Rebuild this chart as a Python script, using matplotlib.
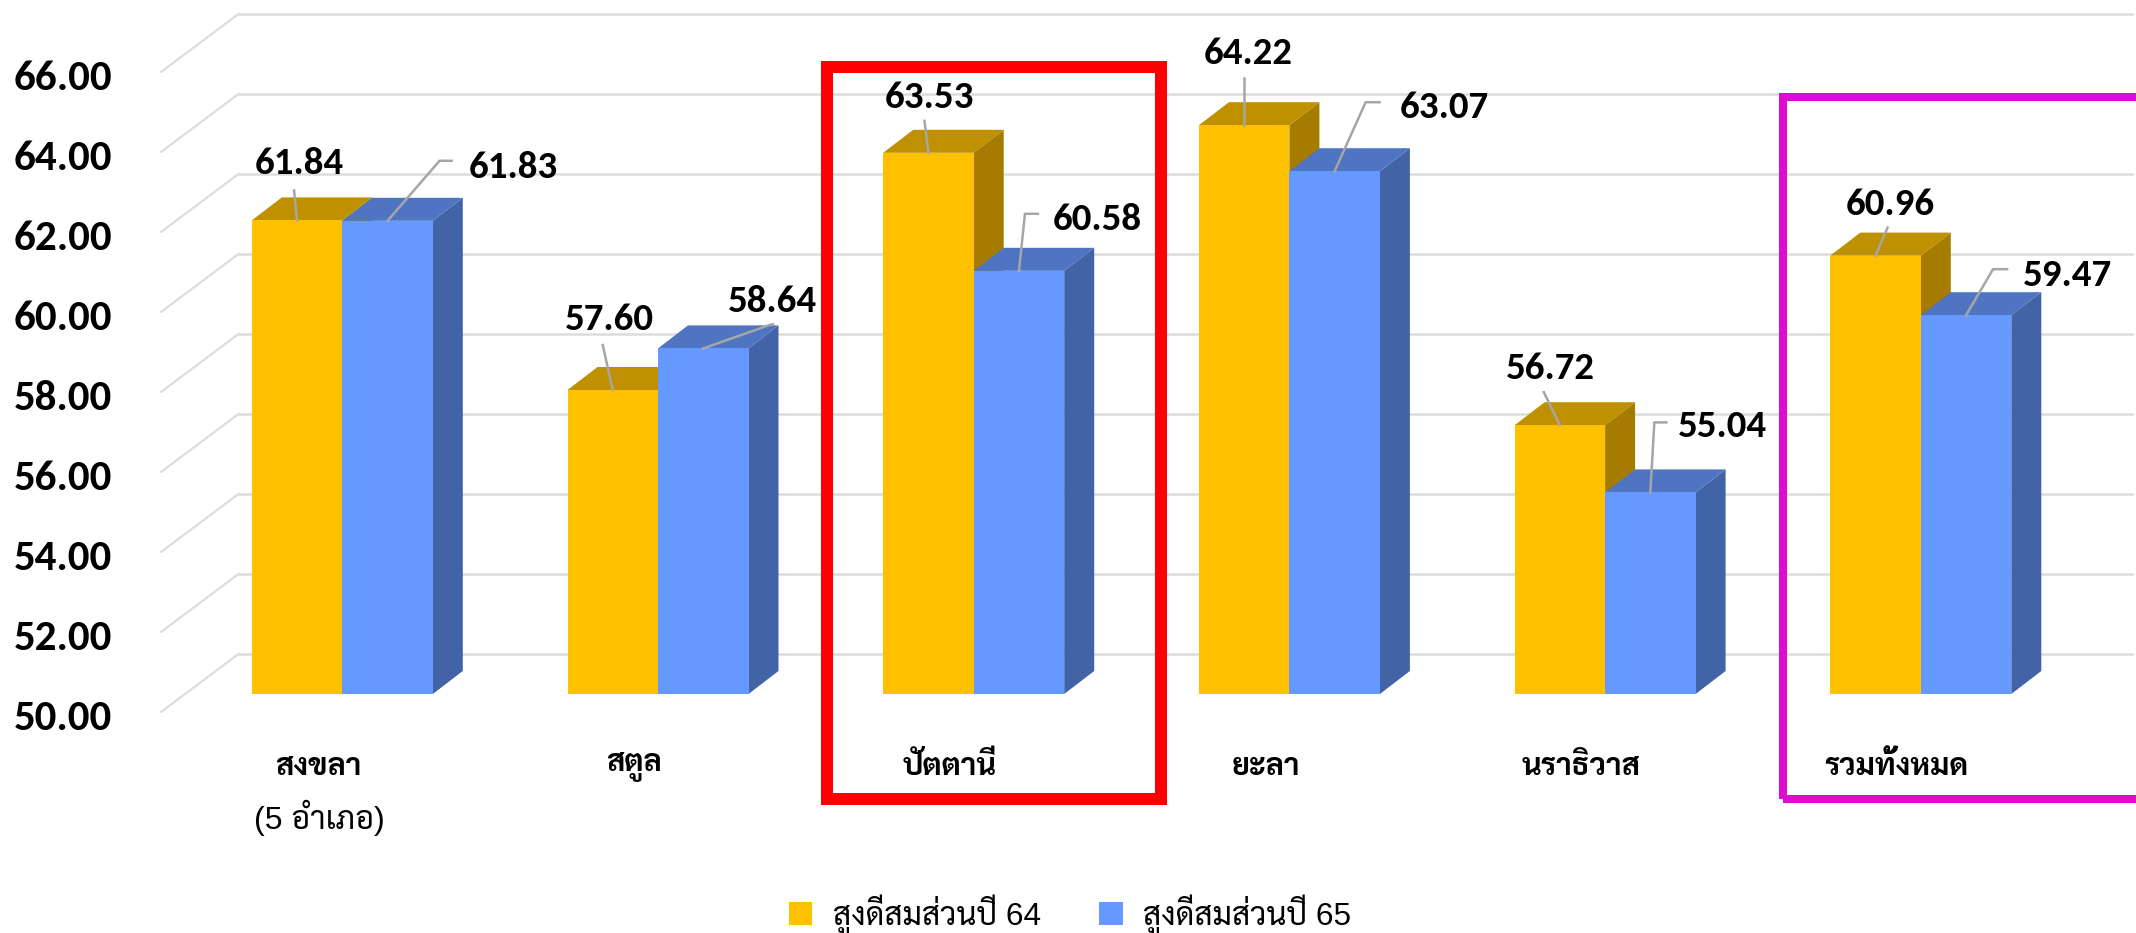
import matplotlib
matplotlib.use('Agg')
import matplotlib.pyplot as plt
from matplotlib.lines import Line2D
from matplotlib.patches import Polygon, Rectangle, Patch
from matplotlib.transforms import IdentityTransform, Affine2D

# ---- data ----
categories = ['สงขลา', 'สตูล', 'ปัตตานี', 'ยะลา', 'นราธิวาส', 'รวมทั้งหมด']
sub_label = '(5 อำเภอ)'
series_names = ['สูงดีสมส่วนปี 64', 'สูงดีสมส่วนปี 65']
values_64 = [61.84, 57.60, 63.53, 64.22, 56.72, 60.96]
values_65 = [61.83, 58.64, 60.58, 63.07, 55.04, 59.47]
y_ticks = [50, 52, 54, 56, 58, 60, 62, 64, 66]

# ---- styles / layout (pixels) ----
W, H = 2136, 933
DPI = 100
NUM = ['Carlito', 'Sarabun']
THAI = ['Liberation Sans', 'Sarabun']
GOLD, GOLD_TOP, GOLD_SIDE = '#FFC000', '#BF9000', '#A67C00'
BLUE, BLUE_TOP, BLUE_SIDE = '#6699FF', '#4E74C2', '#4264A6'
GRID = '#DCDCDC'
LEAD = '#A6A6A6'
PX_L, PX_FLOOR = 161, 694      # axes left edge, bar-floor line
PITCH, PX_C0 = 315.7, 342.3    # group pitch, first-group centre
UNIT = 40.0                    # px per value unit
BAR = 90.5 / PITCH
DX, DY = 30 / PITCH, 23 / UNIT   # bar depth
WDX, WDY = 77.5 / PITCH, 58 / UNIT # wall depth
WALL_Y0 = -18 / UNIT           # front of the floor below the bars
WALL_X = (PX_L - PX_C0) / PITCH
GRID_END = (2132 - PX_C0) / PITCH

# label offsets from bar-top anchor: text centre, and leader points (px, y up)
lab64 = [(2, 57), (-3, 70), (1, 55), (4, 72), (-9, 57), (15, 51)]
lab65 = [(126, 53), (69, 47), (78, 51), (110, 64), (72, 66), (101, 40)]
lead64 = [[(0, 0), (-3, 30)], [(0, 0), (-10, 45)], [(0, 0), (-4, 32)], [(0, 0), (0, 47)],
          [(0, 0), (-16, 33)], [(0, 0), (12, 28)]]
lead65 = [[(0, 0), (52, 60), (64, 60)], [(0, 0), (68, 24), (70, 24)], [(0, 0), (6, 57), (19, 57)],
          [(0, 0), (31, 69), (45, 69)], [(0, 0), (4, 70), (16, 70)], [(0, 0), (27, 46), (41, 46)]]

fig = plt.figure(figsize=(W / DPI, H / DPI), dpi=DPI, facecolor='white')
ax = fig.add_axes([PX_L / W, (H - PX_FLOOR) / H, (W - PX_L) / W, PX_FLOOR / H])
ax.set_xlim(WALL_X, WALL_X + (W - PX_L) / PITCH)
ax.set_ylim(50, 50 + PX_FLOOR / UNIT)
ax.patch.set_visible(False)
for s in ax.spines.values():
    s.set_visible(False)

# walls
for t in y_ticks:
    yf = t + WALL_Y0
    yb = yf + WDY
    ax.plot([WALL_X, WALL_X + WDX], [yf, yb], color=GRID, lw=1.5, clip_on=False, zorder=1,
            solid_capstyle='round')
    ax.plot([WALL_X + WDX, GRID_END], [yb, yb], color=GRID, lw=1.8, clip_on=False, zorder=1)


def bar3d(x0, v, front, top, side, z):
    x1 = x0 + BAR
    ax.add_patch(Rectangle((x0, 50), BAR, v - 50, fc=front, ec='none', zorder=z + 0.2, clip_on=False))
    ax.add_patch(Polygon([(x0, v), (x1, v), (x1 + DX, v + DY), (x0 + DX, v + DY)],
                         fc=top, ec='none', zorder=z + 0.1, clip_on=False))
    ax.add_patch(Polygon([(x1, 50), (x1 + DX, 50 + DY), (x1 + DX, v + DY), (x1, v)],
                         fc=side, ec='none', zorder=z, clip_on=False))


def leader_and_label(x, v, pts, lab, text):
    base = ax.transData.transform((x, v))
    tr = Affine2D().translate(*base)
    ax.add_line(Line2D([p[0] for p in pts], [p[1] for p in pts], color=LEAD, lw=1.8,
                       transform=tr, zorder=6, clip_on=False))
    ax.annotate(text, xy=(x, v), xytext=lab, textcoords='offset pixels', ha='center', va='center',
                fontsize=LABEL_FS, fontweight='bold', family=NUM, color='black', zorder=7,
                annotation_clip=False)


LABEL_FS = 28
for i, (a, b) in enumerate(zip(values_64, values_65)):
    bar3d(i - BAR, a, GOLD, GOLD_TOP, GOLD_SIDE, 2)
    bar3d(i, b, BLUE, BLUE_TOP, BLUE_SIDE, 3)
for i, (a, b) in enumerate(zip(values_64, values_65)):
    leader_and_label(i - BAR / 2, a, lead64[i], lab64[i], f'{a:.2f}')
    leader_and_label(i + BAR / 2, b, lead65[i], lab65[i], f'{b:.2f}')

# y tick labels (sit at the front of the floor, slightly below each wall line)
ax.set_yticks(y_ticks)
ax.set_yticklabels([f'{t:.2f}' for t in y_ticks], fontsize=31, fontweight='bold', family=NUM)
ax.tick_params(axis='y', length=0, pad=35.3)
off = Affine2D().translate(0, -21)
for lab in ax.get_yticklabels():
    lab.set_transform(lab.get_transform() + off)

# x tick labels
ax.set_xticks(range(len(categories)))
ax.set_xticklabels(categories, fontsize=22, fontweight='bold', family=THAI)
ax.tick_params(axis='x', length=0, pad=42)
xoff = Affine2D().translate(-24, 0)
for lab in ax.get_xticklabels():
    lab.set_transform(lab.get_transform() + xoff)
ax.annotate(sub_label, xy=(0, 50), xytext=(-23, -124), textcoords='offset pixels', ha='center', va='center',
            fontsize=23, family=THAI, annotation_clip=False)

# highlight frames (figure pixels)
def frame(x0, y0, x1, y1, color, lw_px):
    ax.add_patch(Rectangle((x0, H - y1), x1 - x0, y1 - y0, fill=False, ec=color, lw=lw_px * 72 / DPI,
                           transform=IdentityTransform(), zorder=8, clip_on=False, joinstyle='miter'))

frame(827, 67, 1161, 799, '#FF0000', 12)
frame(1783, 97, 2160, 799, '#E00BD0', 8)

# legend
handles = [Patch(fc=GOLD, ec='none', label=series_names[0]), Patch(fc=BLUE, ec='none', label=series_names[1])]
fig.legend(handles=handles, loc='center', bbox_to_anchor=(1070 / W, (H - 915) / H), ncol=2, frameon=False,
           prop={'family': THAI, 'size': 22.7}, handlelength=0.74, handleheight=0.74, columnspacing=1.86,
           handletextpad=0.65, borderpad=0, borderaxespad=0)

fig.savefig('out.png', dpi=DPI)
